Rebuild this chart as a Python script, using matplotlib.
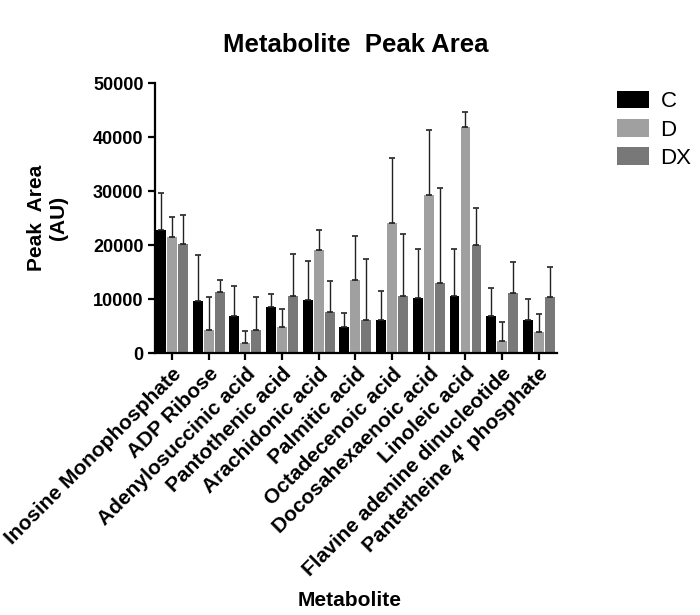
import numpy as np
import matplotlib
matplotlib.use('Agg')
import matplotlib.pyplot as plt

plt.rcParams['font.family'] = ['Liberation Sans', 'DejaVu Sans']

metabolites = ['Inosine Monophosphate', 'ADP Ribose', 'Adenylosuccinic acid',
               'Pantothenic acid', 'Arachidonic acid', 'Palmitic acid',
               'Octadecenoic acid', 'Docosahexaenoic acid', 'Linoleic acid',
               'Flavine adenine dinucleotide', "Pantetheine 4' phosphate"]

# mean peak areas
c_vals = [22800, 9600, 6900, 8600, 9800, 4900, 6100, 10100, 10600, 6900, 6100]
d_vals = [21500, 4300, 1800, 4800, 19100, 13500, 24100, 29300, 41800, 2300, 3800]
dx_vals = [20100, 11300, 4300, 10600, 7600, 6100, 10500, 13000, 20000, 11100, 10300]

# upper ends of the error bars
c_top = [29600, 18100, 12500, 10900, 17100, 7500, 11400, 19200, 19200, 12000, 10000]
d_top = [25200, 10400, 4100, 8200, 22800, 21700, 36200, 41300, 44600, 5800, 7300]
dx_top = [25500, 13500, 10400, 18300, 13300, 17500, 22000, 30500, 26800, 16800, 15900]

groups = ['C', 'D', 'DX']
colors = ['#000000', '#a0a0a0', '#787878']

fig = plt.figure(figsize=(7, 6.15), dpi=100)
ax = fig.add_axes([0.221, 0.426, 0.575, 0.439])

x = np.arange(len(metabolites))
width = 0.27
offsets = [-0.3, 0, 0.3]

for vals, tops, off, col, name in zip([c_vals, d_vals, dx_vals],
                                      [c_top, d_top, dx_top],
                                      offsets, colors, groups):
    vals = np.array(vals)
    err = np.array(tops) - vals
    ax.bar(x + off, vals, width, color=col, label=name, zorder=2)
    ax.errorbar(x + off, vals, yerr=[np.zeros_like(err), err], fmt='none',
                ecolor='#222222', elinewidth=1.0, capsize=2, capthick=1.2, zorder=3)

ax.set_xlim(-0.47, 10.5)
ax.set_ylim(0, 50000)
ax.set_yticks(np.arange(0, 50001, 10000))
ax.set_xticks(x)
ax.set_xticklabels(metabolites, rotation=45, ha='right', rotation_mode='anchor',
                   fontsize=15, fontweight='bold')
for lab in ax.get_yticklabels():
    lab.set_fontsize(13)
    lab.set_fontweight('bold')

for s in ['top', 'right']:
    ax.spines[s].set_visible(False)
for s in ['left', 'bottom']:
    ax.spines[s].set_linewidth(1.6)
ax.tick_params(width=1.6, length=5, pad=3)

ax.set_title('Metabolite  Peak Area', fontsize=18.5, fontweight='bold', pad=22)
ax.set_ylabel('Peak  Area\n(AU)', fontsize=15, fontweight='bold', labelpad=18)
fig.text(0.5, 0.014, 'Metabolite', fontsize=15, fontweight='bold', ha='center')

fig.legend(loc='upper left', bbox_to_anchor=(0.853, 0.885), frameon=False,
           fontsize=16, handlelength=1.45, handleheight=0.85, labelspacing=0.3,
           handletextpad=0.5)

fig.savefig('out.png', dpi=100)
